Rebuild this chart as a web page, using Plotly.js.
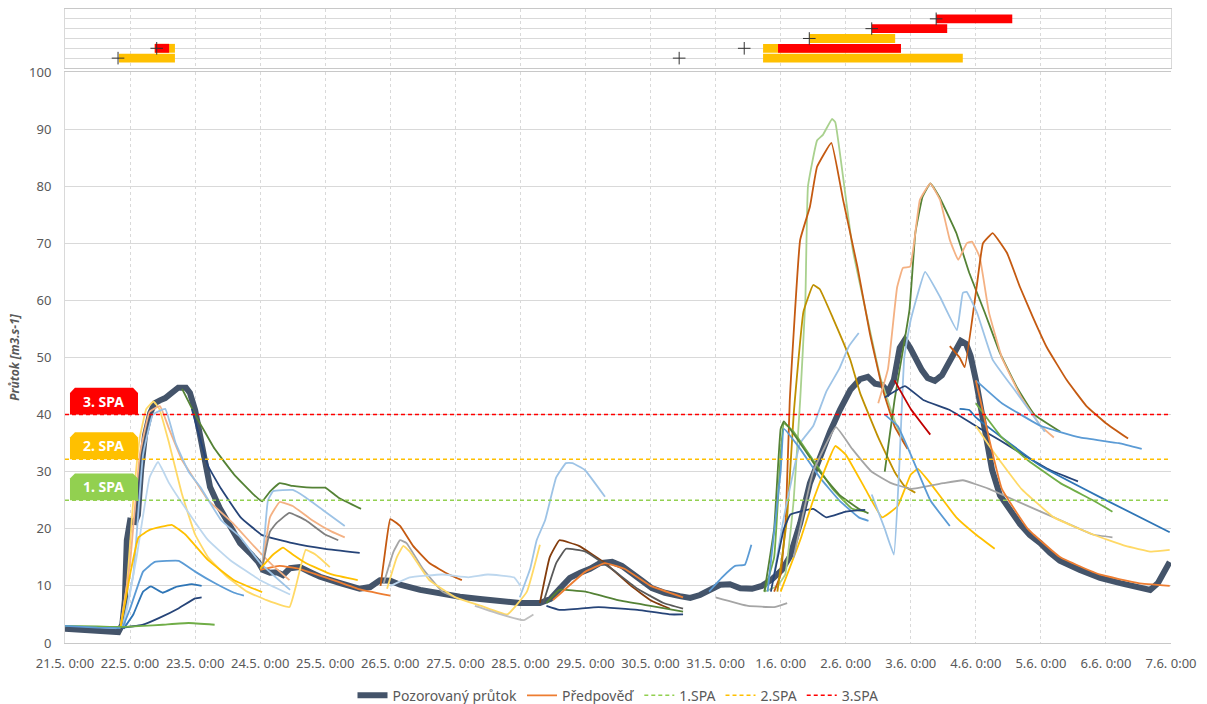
<!DOCTYPE html>
<html>
<head>
<meta charset="utf-8">
<script src="https://cdn.plot.ly/plotly-3.0.1.min.js"></script>
<style>html,body{margin:0;padding:0;background:#fff;}#chart{width:1207px;height:704px;}</style>
</head>
<body>
<div id="chart"></div>
<script>
// ---------- DATA (time = days since 21.5. 0:00) ----------
const observedDays = [0,0.23,0.54,0.82,0.88,0.92,0.95,1.00,1.08,1.12,1.17,1.23,1.31,1.38,1.46,1.54,1.64,1.74,1.86,1.92,2.00,2.08,2.15,2.23,2.38,2.54,2.69,2.84,2.97,3.04,3.15,3.26,3.35,3.46,3.61,3.77,3.92,4.23,4.53,4.69,4.84,5.00,5.15,5.46,5.76,6.07,6.38,6.69,6.99,7.30,7.46,7.61,7.76,7.92,8.07,8.22,8.41,8.56,8.72,8.87,9.02,9.22,9.45,9.61,9.76,9.91,10.07,10.22,10.38,10.56,10.71,10.87,11.02,11.14,11.30,11.45,11.60,11.76,11.91,12.07,12.22,12.34,12.45,12.56,12.65,12.74,12.83,12.91,12.99,13.08,13.17,13.26,13.37,13.48,13.57,13.68,13.77,13.85,13.92,14.00,14.08,14.16,14.25,14.37,14.53,14.68,14.83,14.99,15.14,15.29,15.60,15.91,16.22,16.52,16.68,16.80,16.91,16.98];
const observedFlow = [2.5,2.3,2.1,1.9,3.2,7.5,18,21.4,21.2,22.4,30.3,36.4,40.3,42,42.5,42.9,43.8,44.7,44.7,43.8,40.8,35.9,31.2,27.3,23.6,20.3,17.5,15.8,14.2,12.8,12.3,12.4,11.9,13.1,13.3,12.4,11.6,10.5,9.5,9.8,11.0,10.9,10.2,9.3,8.6,8.1,7.7,7.4,7.0,7.0,7.7,9.6,11.4,12.3,13.0,14.0,14.2,13.5,12.3,10.9,9.6,8.8,8.2,7.9,8.4,9.3,10.2,10.3,9.6,9.5,10.0,11.2,12.8,15.1,21.0,28.0,32.7,37.0,40.8,44.3,46.2,46.6,45.4,45.2,44.0,46.1,51.7,53.1,51.7,49.6,47.8,46.4,45.9,46.9,48.7,51.3,52.9,52.4,50.3,46.1,40.8,35.6,30.3,25.9,23.1,20.8,18.9,17.5,15.8,14.4,12.8,11.4,10.5,9.6,9.3,10.5,12.8,14.2];

// forecasts: [day, flow] pairs
const fc01 = [[3.0,12.8],[3.3,13.5],[3.6,13],[4.0,11.5],[4.5,9.5],[5.0,8.3]];
const fc02 = [[0.85,2.5],[0.95,10],[1.05,25],[1.15,36],[1.25,41],[1.36,42.3],[1.45,41],[1.6,35],[1.8,26],[2.0,19],[2.2,15],[2.5,11.5],[2.8,9],[3.1,7.5],[3.45,6.3],[3.55,10],[3.7,16.3],[3.85,15.5],[4.07,13.3]];
const fc03 = [[0.85,2.5],[1.0,14],[1.15,33],[1.3,40.5],[1.46,41.5],[1.6,37.5],[1.8,32],[1.97,29],[2.2,25],[2.58,21],[2.9,17],[3.2,13.5],[3.45,11]];
const fc04 = [[0.88,2.5],[1.05,12],[1.2,33],[1.35,40],[1.54,41],[1.7,35],[1.9,30],[2.08,27.3],[2.4,21.5],[2.69,18.6],[3.0,14],[3.46,9.3]];
const fc05 = [[0.9,2.5],[1.1,15],[1.3,29],[1.43,31.7],[1.6,28],[1.84,23.8],[2.2,18],[2.54,14.5],[3.0,11],[3.46,8.5]];
const fc06 = [[0.85,2.5],[1.0,12],[1.13,18.5],[1.3,19.8],[1.64,20.7],[1.85,19],[2.2,14.5],[2.6,11],[3.03,8.9]];
const fc07 = [[0.88,2.5],[1.0,6],[1.2,12.5],[1.38,14.2],[1.75,14.4],[2.0,12.5],[2.3,10.5],[2.6,8.8],[2.75,8.3]];
const fc08 = [[0.9,2.5],[1.05,5],[1.2,9],[1.32,9.9],[1.5,8.8],[1.7,9.8],[1.95,10.3],[2.1,10.0]];
const fc09 = [[0.85,2.6],[1.2,3.2],[1.45,4.4],[1.75,6.1],[2.0,7.8],[2.1,8.0]];
const fc10 = [[0,3.0],[0.5,2.9],[0.85,2.8],[1.2,3.0],[1.5,3.2],[1.9,3.5],[2.3,3.2]];
const fc11 = [[1.8,44.5],[2.0,40],[2.3,34],[2.6,29.5],[2.9,26],[3.03,24.8],[3.15,26.5],[3.3,28],[3.5,27.5],[3.8,27.2],[4.0,27.2],[4.2,25.5],[4.55,23.5]];
const fc12 = [[1.95,41],[2.2,31],[2.4,27],[2.7,22],[3.03,18.9],[3.5,17.5],[4.0,16.5],[4.53,15.8]];
const fc13 = [[3.03,13],[3.12,25],[3.2,26.6],[3.5,26.8],[3.7,25.5],[4.0,23],[4.3,20.5]];
const fc14 = [[3.03,13],[3.15,22],[3.3,24.7],[3.5,24],[3.8,21.5],[4.1,19.5],[4.3,18.5]];
const fc15 = [[3.03,13],[3.15,19.5],[3.25,21],[3.45,22.8],[3.7,21.5],[4.0,19],[4.2,18]];
const fc16 = [[3.0,13],[3.2,15.5],[3.35,16.7],[3.5,15.5],[3.7,14],[4.1,12],[4.5,11]];
const fc17 = [[4.85,10],[4.92,16],[5.0,21.7],[5.15,20.5],[5.35,17],[5.6,14],[5.9,12],[6.1,11]];
const fc18 = [[4.9,10.5],[5.05,16],[5.15,18],[5.25,17.5],[5.5,13],[5.8,9],[6.0,8]];
const fc19 = [[4.95,9.5],[5.1,15],[5.2,17],[5.3,16],[5.6,11],[6.0,8],[6.4,6.5],[6.8,5],[7.1,9],[7.3,17.2]];
const fc20 = [[5.0,10],[5.3,11.5],[5.8,12],[6.2,11.5],[6.5,12],[6.9,11.5],[7.0,10]];
const fc21 = [[6.3,6.5],[6.7,5],[7.05,4],[7.2,5]];
const fc22 = [[6.99,8],[7.15,13],[7.25,18],[7.38,21.5],[7.55,29],[7.7,31.5],[7.8,31.5],[7.99,30.3],[8.3,25.6]];
const fc23 = [[7.3,7],[7.45,15],[7.6,18],[7.9,17],[8.3,14],[8.7,10],[9.0,7.5],[9.3,6]];
const fc24 = [[7.35,7],[7.55,14],[7.7,16.5],[8.0,16],[8.4,13],[8.8,9.5],[9.2,7],[9.5,6]];
const fc25 = [[7.4,7],[7.6,9.3],[8.0,9],[8.5,7.5],[9.0,6.5],[9.5,5.5]];
const fc26 = [[7.4,6.5],[7.6,5.8],[8.2,6.3],[8.8,5.8],[9.3,5],[9.5,5]];
const fc27 = [[7.5,7.5],[8.0,12.5],[8.3,14],[8.6,13],[9.0,10],[9.5,8]];
const fc28 = [[9.9,9],[10.1,11.5],[10.3,13.5],[10.45,13.7],[10.55,17.2]];
const fc29 = [[10.0,8],[10.5,6.5],[10.9,6.3],[11.1,7]];
const fc30 = [[10.75,9],[10.95,10],[11.07,12],[11.2,25],[11.3,42.5],[11.38,60],[11.42,80],[11.56,88],[11.65,89],[11.79,91.8],[11.84,91.2],[11.96,81.6],[12.11,68.8],[12.33,57],[12.53,46.6],[12.75,39],[12.9,35]];
const fc31 = [[10.9,9],[11.0,12],[11.08,22],[11.14,42.5],[11.3,70.6],[11.45,76.4],[11.56,83.4],[11.78,87.6],[11.96,77.6],[12.18,65.9],[12.37,54.3],[12.56,44.8],[12.75,38],[12.95,34]];
const fc32 = [[10.95,9],[11.1,22],[11.2,40],[11.35,58],[11.5,62.7],[11.6,62],[11.8,57],[12.07,49.6],[12.22,43.8],[12.5,36],[12.75,30],[12.9,27.5],[13.07,26.3]];
const fc33 = [[10.9,12],[11.05,22],[11.3,35],[11.5,38],[11.7,44],[11.9,48],[12.05,52],[12.2,54.3]];
const fc34 = [[10.75,9],[10.9,15],[11.0,33],[11.05,38.5],[11.2,37],[11.5,32],[11.8,27],[12.1,23.5],[12.3,23]];
const fc35 = [[10.75,9],[10.9,20],[11.0,37.5],[11.05,38.8],[11.3,35],[11.6,30],[11.9,26],[12.2,23.5],[12.35,22.7]];
const fc36 = [[10.8,9],[11.0,30],[11.05,37.5],[11.3,34],[11.6,29],[11.9,25],[12.2,22],[12.35,21.4]];
const fc37 = [[10.85,9],[11.05,20],[11.15,22.5],[11.5,23.5],[11.7,22],[12.0,23],[12.3,23.3]];
const fc38 = [[11.0,9],[11.3,18],[11.5,25],[11.84,34.5],[12.0,33],[12.3,27],[12.56,22],[12.8,24],[13.0,29.5],[13.11,30.5],[13.3,28],[13.7,22],[14.0,19],[14.29,16.5]];
const fc39 = [[11.2,15],[11.5,30],[11.85,37.8],[12.1,34],[12.4,30],[12.7,28],[13.0,27],[13.5,28],[13.8,28.5],[14.2,27],[14.6,25],[15.2,22],[15.8,19],[16.1,18.5]];
const fc40 = [[12.6,30],[12.75,42.5],[12.98,58.3],[13.07,71.8],[13.18,78.1],[13.3,80.5],[13.44,78.1],[13.7,71.8],[13.9,64.8],[14.14,57.8],[14.37,50.8],[14.63,44.8],[14.9,40],[15.3,37]];
const fc41 = [[12.5,42],[12.65,48],[12.79,62.3],[12.88,65.7],[12.99,65.9],[13.05,70],[13.14,77.6],[13.3,80.5],[13.45,77.6],[13.6,70.6],[13.73,67.1],[13.86,70],[13.94,70.3],[14.06,67.6],[14.2,58],[14.4,50],[14.7,43],[15.0,38],[15.2,36]];
const fc42 = [[13.6,52],[13.75,50],[13.83,48.3],[14.02,63],[14.11,70],[14.26,71.8],[14.48,68.3],[14.68,62.3],[14.88,57],[15.09,51.8],[15.4,46],[15.7,41.5],[16.0,38.5],[16.34,35.8]];
const fc43 = [[12.4,26],[12.6,20],[12.74,15.5],[12.82,30],[12.9,50],[13.0,56.6],[13.22,65],[13.45,60.6],[13.71,54.8],[13.8,61.3],[13.86,61.5],[14.02,57.8],[14.26,49.6],[14.63,43.8],[15.06,37]];
const fc44 = [[12.6,43],[12.91,45],[13.2,42.5],[13.6,40.8],[14.0,38],[14.37,35.5],[14.8,32.5],[15.14,30.3],[15.57,28.3]];
const fc45 = [[13.75,41],[13.9,40.8],[14.0,39.5],[14.4,36],[15.0,31],[15.9,25.6],[16.98,19.4]];
const fc46 = [[14.0,46],[14.4,42],[15.0,38],[15.6,36],[16.2,35],[16.55,34]];
const fc47 = [[14.0,42],[14.4,36],[14.8,32],[15.3,28],[15.8,25],[16.1,23]];
const fc48 = [[14.0,38],[14.3,33],[14.7,27],[15.2,22],[15.8,19],[16.3,17],[16.7,16],[16.98,16.3]];
const fc49 = [[14.0,46],[14.2,36],[14.4,27],[14.8,20],[15.3,15],[15.9,12],[16.5,10.5],[16.98,10]];
const fc50 = [[12.6,40],[12.8,38],[13.0,33],[13.3,25],[13.6,20.5]];
const fc51 = [[12.75,46],[13.0,41],[13.3,36.5]];
const fc52 = [[0,3.0],[0.5,2.7],[0.85,2.6]];

const forecasts = [fc01,fc02,fc03,fc04,fc05,fc06,fc07,fc08,fc09,fc10,fc11,fc12,fc13,fc14,fc15,fc16,fc17,fc18,fc19,fc20,fc21,fc22,fc23,fc24,fc25,fc26,fc27,fc28,fc29,fc30,fc31,fc32,fc33,fc34,fc35,fc36,fc37,fc38,fc39,fc40,fc41,fc42,fc43,fc44,fc45,fc46,fc47,fc48,fc49,fc50,fc51,fc52];

// flood activity levels (SPA)
const spaNames  = ['1.SPA','2.SPA','3.SPA'];
const spaLabels = ['1. SPA','2. SPA','3. SPA'];
const spaLevels = [25, 32.2, 40];

// warning panel: predicted exceedance periods (row, start day, end day, level)
const warnRow   = [1, 2, 2, 1, 2, 3, 2, 4, 5];
const warnStart = [0.83, 1.38, 1.38, 10.73, 10.73, 11.44, 10.96, 12.40, 13.39];
const warnEnd   = [1.69, 1.69, 1.60, 13.80, 12.85, 12.76, 12.85, 13.56, 14.56];
const warnLevel = [2, 2, 3, 2, 2, 2, 3, 3, 3];
// forecast issue times shown as crosses
const issueDay = [0.815, 1.41, 9.44, 10.44, 11.44, 12.40, 13.39];
const issueRow = [1, 2, 1, 2, 3, 4, 5];

// ---------- STYLE ----------
const fcColors = ['#ED7D31','#FFD966','#F4B183','#9DC3E6','#BDD7EE','#FFC000','#5B9BD5','#2E75B6','#264478','#70AD47',
  '#548235','#264478','#9DC3E6','#F4B183','#7F7F7F','#FFC000','#C55A11','#A5A5A5','#FFD966','#BDD7EE',
  '#BFBFBF','#9DC3E6','#843C0C','#595959','#548235','#264478','#ED7D31','#5B9BD5','#A5A5A5','#A9D18E',
  '#C55A11','#BF9000','#9DC3E6','#70AD47','#548235','#5B9BD5','#264478','#FFC000','#A5A5A5','#548235',
  '#F4B183','#C55A11','#9DC3E6','#264478','#2E75B6','#5B9BD5','#70AD47','#FFD966','#ED7D31','#5B9BD5',
  '#C00000','#5B9BD5'];
const spaColors = ['#92D050','#FFC000','#FF0000'];
const levelColor = {2:'#FFC000', 3:'#FF0000'};

function toDate(d){
  const t = new Date(Date.UTC(2013,4,21) + Math.round(d*1440)*60000);
  const p = n => String(n).padStart(2,'0');
  return t.getUTCFullYear()+'-'+p(t.getUTCMonth()+1)+'-'+p(t.getUTCDate())+' '+p(t.getUTCHours())+':'+p(t.getUTCMinutes());
}

const traces = [];
traces.push({
  x: observedDays.map(toDate), y: observedFlow, name: 'Pozorovaný průtok', type: 'scatter', mode: 'lines',
  line: {color: '#44546A', width: 6, shape: 'linear'}, xaxis: 'x', yaxis: 'y'
});
forecasts.forEach((f, i) => {
  traces.push({
    x: f.map(p => toDate(p[0])), y: f.map(p => p[1]), name: 'Předpověď', type: 'scatter', mode: 'lines',
    showlegend: i === 0, legendgroup: 'fc',
    line: {color: fcColors[i], width: 1.8, shape: 'spline', smoothing: 0.3}, xaxis: 'x', yaxis: 'y'
  });
});
spaLevels.forEach((lv, i) => {
  traces.push({
    x: [toDate(0), toDate(17)], y: [lv, lv], name: spaNames[i], type: 'scatter', mode: 'lines',
    line: {color: spaColors[i], width: 1.5, dash: '4px,3px'}, xaxis: 'x', yaxis: 'y'
  });
});
[2, 3].forEach(level => {
  const idx = warnLevel.map((l, i) => l === level ? i : -1).filter(i => i >= 0);
  traces.push({
    type: 'bar', orientation: 'h', showlegend: false,
    y: idx.map(i => warnRow[i]),
    base: idx.map(i => toDate(warnStart[i])),
    x: idx.map(i => (warnEnd[i] - warnStart[i]) * 86400000),
    width: 0.9, marker: {color: levelColor[level], line: {width: 0}},
    xaxis: 'x', yaxis: 'y2'
  });
});
traces.push({
  type: 'scatter', mode: 'markers', showlegend: false,
  x: issueDay.map(toDate), y: issueRow,
  marker: {symbol: 'cross-thin', size: 9, color: '#333', line: {width: 1, color: '#333'}},
  xaxis: 'x', yaxis: 'y2'
});

// SPA label boxes
const shapes = [], annotations = [];
const bx0 = 0.0045, bx1 = 0.066, cx = 0.0045, bh = 4.7, ch = 0.9;
spaLevels.forEach((lv, i) => {
  const top = lv + bh;
  shapes.push({
    type: 'path', xref: 'paper', yref: 'y', layer: 'above',
    path: `M ${bx0},${lv} L ${bx0},${top-ch} L ${bx0+cx},${top} L ${bx1-cx},${top} L ${bx1},${top-ch} L ${bx1},${lv} Z`,
    fillcolor: spaColors[i], line: {width: 0}
  });
  annotations.push({
    xref: 'paper', yref: 'y', x: (bx0+bx1)/2, y: lv + bh/2, xanchor: 'center', yanchor: 'middle',
    text: '<b>' + spaLabels[i] + '</b>',
    showarrow: false, font: {color: '#ffffff', size: 14, family: 'Noto Sans, Open Sans, sans-serif'}
  });
});

const layout = {
  width: 1207, height: 704,
  margin: {l: 65, r: 36, t: 9, b: 61, pad: 0, autoexpand: false},
  paper_bgcolor: '#ffffff', plot_bgcolor: '#ffffff',
  font: {family: 'Noto Sans, Open Sans, sans-serif', color: '#595959', size: 12},
  showlegend: true, barmode: 'overlay',
  xaxis: {
    type: 'date', range: [toDate(0), toDate(17)], tick0: toDate(0), dtick: 86400000,
    tickformat: '%-d.%-m. %-H:%M', showgrid: true, gridcolor: '#D9D9D9', griddash: '3px,3px', gridwidth: 1,
    showline: true, linecolor: '#C8C8C8', linewidth: 1, mirror: 'all', zeroline: false,
    ticks: '', ticklabelstandoff: 8, tickfont: {size: 13, color: '#595959'}, anchor: 'y', domain: [0, 1],
    automargin: false
  },
  yaxis: {
    domain: [0, 0.9006], range: [0, 100], dtick: 10, showgrid: true, gridcolor: '#D9D9D9', zeroline: false,
    showline: true, linecolor: '#D9D9D9', ticks: '', ticklabelstandoff: 10, tickfont: {size: 13, color: '#595959'},
    title: {text: 'Průtok [m3.s-1]', font: {size: 12, style: 'italic', weight: 'bold', color: '#595959'}, standoff: 6},
    anchor: 'x', automargin: false
  },
  yaxis2: {
    domain: [0.907, 1], range: [0, 6], dtick: 1, showgrid: true, gridcolor: '#D9D9D9', zeroline: false,
    showticklabels: false, showline: true, mirror: true, linecolor: '#D9D9D9', ticks: '', anchor: 'x'
  },
  legend: {orientation: 'h', x: 0.5, xanchor: 'center', y: -0.058, yanchor: 'top',
    font: {size: 14, color: '#595959'}, traceorder: 'normal'},
  shapes: shapes, annotations: annotations
};

Plotly.newPlot('chart', traces, layout, {staticPlot: true, displayModeBar: false});
</script>
</body>
</html>
